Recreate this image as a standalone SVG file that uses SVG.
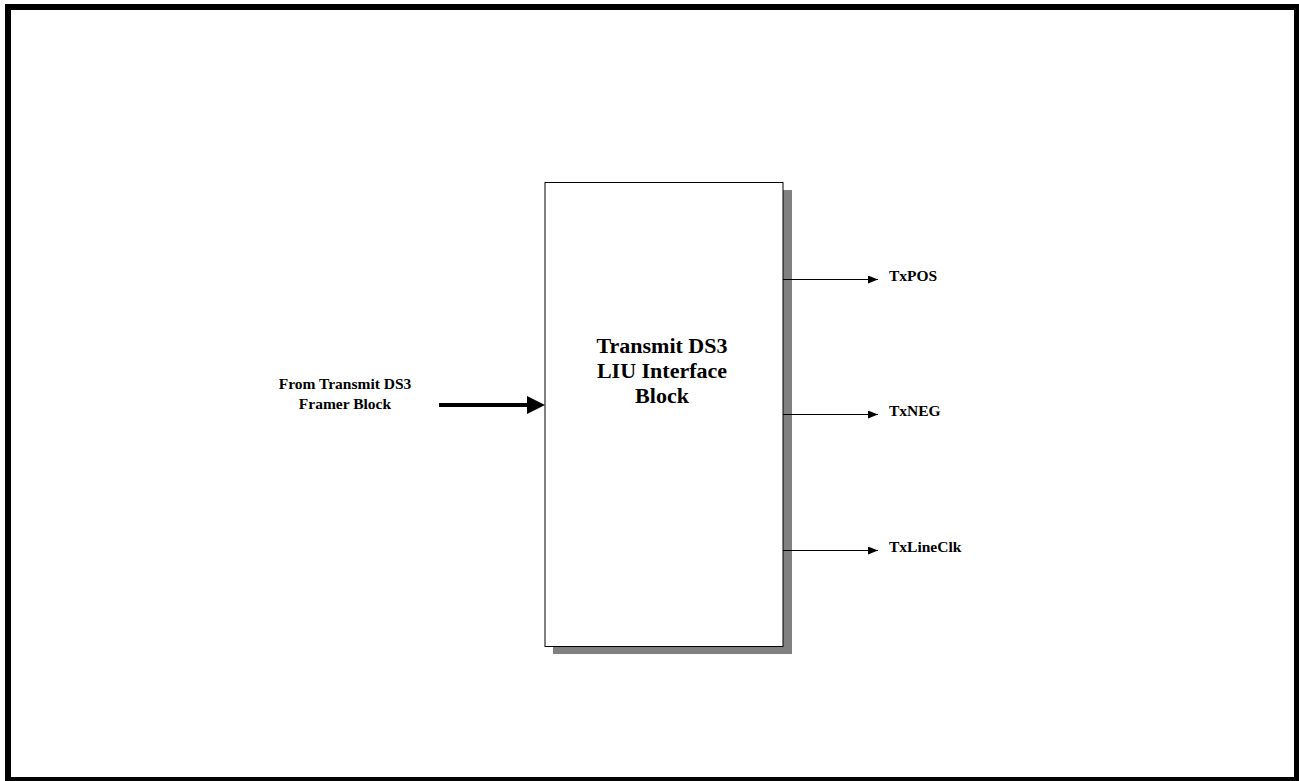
<svg xmlns="http://www.w3.org/2000/svg" width="1299" height="781" viewBox="0 0 1299 781">
<style>
text{font-family:"Liberation Serif","Times New Roman",serif;font-weight:bold;fill:#000}
.lbl{font-size:15.5px}
.big{font-size:22px}
.thin{stroke:#000;stroke-width:1;fill:none}
</style>
<defs>
<marker id="ah" markerWidth="10" markerHeight="8" refX="10" refY="4" orient="auto" markerUnits="userSpaceOnUse">
<path d="M0,0 L10,4 L0,8 Z" fill="#000"/>
</marker>
</defs>
<rect x="8" y="7" width="1289" height="773" fill="#fff" stroke="#000" stroke-width="6"/>
<g id="liu-block">
<rect x="553" y="190" width="239" height="464" fill="#808080"/>
<rect x="545" y="182.5" width="238" height="464" fill="#fff" stroke="#000" stroke-width="1"/>
<text class="big" text-anchor="middle" x="662" y="353">Transmit DS3</text>
<text class="big" text-anchor="middle" x="662" y="378">LIU Interface</text>
<text class="big" text-anchor="middle" x="662" y="403">Block</text>
</g>
<g id="input-label">
<text class="lbl" text-anchor="middle" x="345" y="389">From Transmit DS3</text>
<text class="lbl" text-anchor="middle" x="345" y="409">Framer Block</text>
</g>
<g id="txpos"><text class="lbl" x="889" y="281">TxPOS</text></g>
<g id="txneg"><text class="lbl" x="889" y="416">TxNEG</text></g>
<g id="txlineclk"><text class="lbl" x="889" y="552">TxLineClk</text></g>
<g id="connectors">
<line x1="439" y1="405" x2="530" y2="405" stroke="#000" stroke-width="4"/>
<path d="M527,396 L545,405 L527,414 Z" fill="#000"/>
<line class="thin" x1="783" y1="279.5" x2="878" y2="279.5" marker-end="url(#ah)"/>
<line class="thin" x1="783" y1="414.5" x2="878" y2="414.5" marker-end="url(#ah)"/>
<line class="thin" x1="783" y1="550.5" x2="878" y2="550.5" marker-end="url(#ah)"/>
</g>
</svg>
